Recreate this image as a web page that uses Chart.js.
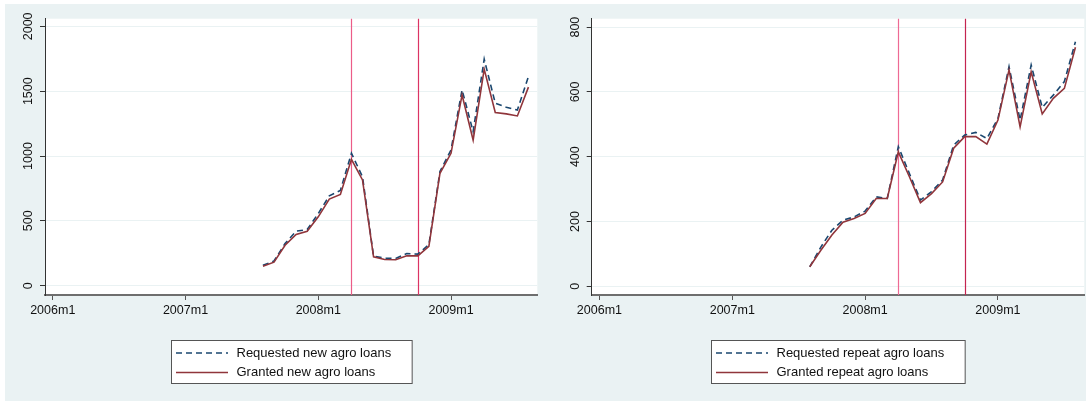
<!DOCTYPE html>
<html>
<head>
<meta charset="utf-8">
<script src="https://cdn.jsdelivr.net/npm/chart.js@4.4.1/dist/chart.umd.min.js"></script>
<style>
  body { margin: 0; background: #fff; width: 1086px; height: 401px; overflow: hidden; position: relative; }
  #bg { position: absolute; left: 5px; top: 4px; width: 1081px; height: 397px; background: #eaf2f3; }
  .panel { position: absolute; top: 4px; height: 397px; }
  #p1 { left: 5px; width: 538px; }
  #p2 { left: 543px; width: 543px; }
</style>
</head>
<body>
<div id="bg"></div>
<div class="panel" id="p1"><canvas id="newLoans"></canvas></div>
<div class="panel" id="p2"><canvas id="repeatLoans"></canvas></div>
<script>
const months = ['2007m8', '2007m9', '2007m10', '2007m11', '2007m12',
  '2008m1', '2008m2', '2008m3', '2008m4', '2008m5', '2008m6', '2008m7', '2008m8', '2008m9', '2008m10', '2008m11', '2008m12',
  '2009m1', '2009m2', '2009m3', '2009m4', '2009m5', '2009m6', '2009m7', '2009m8'];

const requestedNew = [157, 190, 325, 420, 433, 556, 693, 735, 1021, 840, 227, 212, 210, 248, 243, 317, 880,
  1047, 1510, 1188, 1747, 1407, 1376, 1355, 1613];
const grantedNew = [150, 181, 312, 395, 420, 531, 668, 704, 974, 815, 222, 202, 200, 230, 230, 304, 866,
  1021, 1471, 1123, 1670, 1335, 1325, 1309, 1531];

const requestedRepeat = [60, 121, 173, 204, 214, 232, 276, 271, 431, 348, 266, 292, 328, 436, 467, 475, 456,
  518, 678, 513, 683, 552, 590, 632, 755];
const grantedRepeat = [60, 111, 158, 198, 209, 225, 271, 271, 415, 338, 258, 286, 322, 426, 462, 462, 439,
  513, 668, 492, 662, 532, 580, 611, 738];

const xTickLabels = ['2006m1', '2007m1', '2008m1', '2009m1'];
const newTicks = [0, 500, 1000, 1500, 2000];
const repeatTicks = [0, 200, 400, 600, 800];
const eventMonths = ['2008m4', '2008m10'];

const FONT = 'Liberation Sans, Arial, sans-serif';

// months since 2006m1
function monthIndex(label) {
  const [y, m] = label.split('m').map(Number);
  return (y - 2006) * 12 + (m - 1);
}

const stataDecor = {
  id: 'stataDecor',
  beforeDraw(chart) {
    const {ctx, chartArea: a} = chart;
    ctx.save();
    ctx.fillStyle = '#fff';
    ctx.fillRect(a.left, a.top, a.right - a.left, a.bottom - a.top);
    ctx.restore();
  },
  beforeDatasetsDraw(chart, args, o) {
    const {ctx, chartArea: a, scales: {x}} = chart;
    eventMonths.forEach((m, i) => {
      const px = Math.round(x.getPixelForValue(monthIndex(m))) + 0.5;
      ctx.save();
      ctx.strokeStyle = o.eventColors[i];
      ctx.lineWidth = 1.2;
      ctx.beginPath();
      ctx.moveTo(px, a.top);
      ctx.lineTo(px, a.bottom);
      ctx.stroke();
      ctx.restore();
    });
  },
  afterDraw(chart, args, o) {
    const {ctx, chartArea: a, scales: {y}} = chart;
    // rotated y tick labels
    ctx.save();
    ctx.fillStyle = '#111';
    ctx.font = '12.5px ' + FONT;
    ctx.textAlign = 'center';
    ctx.textBaseline = 'middle';
    y.ticks.forEach(t => {
      const py = y.getPixelForValue(t.value);
      ctx.save();
      ctx.translate(a.left - 16, py);
      ctx.rotate(-Math.PI / 2);
      ctx.fillText(String(t.value), 0, 0);
      ctx.restore();
    });
    ctx.restore();

    // legend box
    const ds = chart.data.datasets;
    ctx.save();
    ctx.font = '13px ' + FONT;
    const textW = Math.max(...ds.map(d => ctx.measureText(d.label).width));
    const w = 4.5 + 52 + 8.5 + textW + 21;
    const left = Math.round((a.left + a.right) / 2 - w / 2) + 0.5;
    const top = 336.5, h = 43;
    ctx.fillStyle = '#fff';
    ctx.fillRect(left, top, w, h);
    ctx.strokeStyle = '#555';
    ctx.lineWidth = 1;
    ctx.strokeRect(left, top, w, h);
    const rows = [top + 12.5, top + 32];
    ds.forEach((d, i) => {
      ctx.strokeStyle = d.borderColor;
      ctx.lineWidth = d.borderWidth;
      ctx.setLineDash(d.borderDash || []);
      ctx.beginPath();
      ctx.moveTo(left + 4.5, rows[i]);
      ctx.lineTo(left + 56.5, rows[i]);
      ctx.stroke();
      ctx.setLineDash([]);
      ctx.fillStyle = '#111';
      ctx.textAlign = 'left';
      ctx.textBaseline = 'middle';
      ctx.fillText(d.label, left + 65, rows[i]);
    });
    ctx.restore();
  }
};

function makeChart(id, cfg) {
  const points = vals => months.map((m, i) => ({x: monthIndex(m), y: vals[i]}));
  return new Chart(document.getElementById(id), {
    type: 'line',
    data: {
      datasets: [
        {
          label: cfg.labels[0],
          data: points(cfg.requested),
          borderColor: '#1a476f',
          borderWidth: 1.6,
          borderDash: [6, 4],
          pointRadius: 0,
          tension: 0,
          order: 1,
        },
        {
          label: cfg.labels[1],
          data: points(cfg.granted),
          borderColor: '#90353b',
          borderWidth: 1.6,
          pointRadius: 0,
          tension: 0,
          order: 0,
        },
      ],
    },
    options: {
      responsive: true,
      maintainAspectRatio: false,
      animation: false,
      layout: {padding: {left: 0, top: 14.7, right: cfg.padRight, bottom: 76}},
      plugins: {
        legend: {display: false},
        tooltip: {enabled: false},
        stataDecor: {eventColors: cfg.eventColors},
      },
      scales: {
        x: {
          type: 'linear',
          min: -0.7,
          max: 43.8,
          afterBuildTicks: s => { s.ticks = xTickLabels.map(monthIndex).map(v => ({value: v})); },
          afterFit: s => { s.height = 30; },
          border: {color: '#6e6e6e', width: 2},
          grid: {drawOnChartArea: false, drawTicks: true, tickLength: 5, tickColor: '#555'},
          ticks: {
            autoSkip: false,
            maxRotation: 0,
            padding: 3,
            color: '#111',
            font: {family: FONT, size: 12.5},
            callback: v => xTickLabels[[0, 12, 24, 36].indexOf(v)] || '',
          },
        },
        y: {
          min: cfg.yMin,
          max: cfg.yMax,
          afterBuildTicks: s => { s.ticks = cfg.yTicks.map(v => ({value: v})); },
          afterFit: s => { s.width = cfg.axisWidth; },
          border: {color: '#333', width: 1},
          grid: {color: '#eaf2f3', lineWidth: 1, drawTicks: true, tickLength: 5, tickColor: '#333'},
          ticks: {display: false},
        },
      },
    },
    plugins: [stataDecor],
  });
}

makeChart('newLoans', {
  labels: ['Requested new agro loans', 'Granted new agro loans'],
  requested: requestedNew,
  granted: grantedNew,
  yMin: -72, yMax: 2059, yTicks: newTicks,
  axisWidth: 40, padRight: 5.7,
  eventColors: ['#ec5c88', '#dc3464'],
});

makeChart('repeatLoans', {
  labels: ['Requested repeat agro loans', 'Granted repeat agro loans'],
  requested: requestedRepeat,
  granted: grantedRepeat,
  yMin: -27, yMax: 826, yTicks: repeatTicks,
  axisWidth: 48.7, padRight: 1.7,
  eventColors: ['#ee6a94', '#c42450'],
});
</script>
</body>
</html>
